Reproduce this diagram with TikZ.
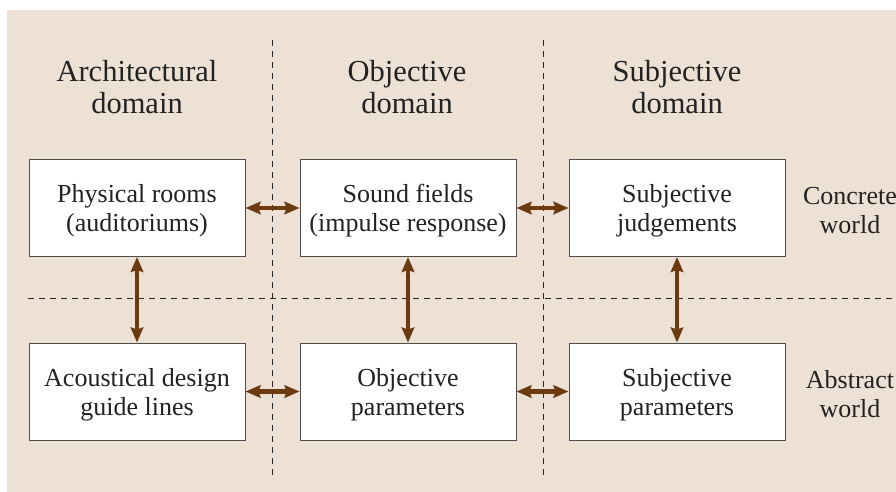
\documentclass[tikz,border=0pt]{standalone}
\usepackage{fontspec}
\setmainfont{Liberation Serif}
\usetikzlibrary{arrows.meta}
\definecolor{bgc}{HTML}{EDE1D6}
\definecolor{arrc}{HTML}{6B3A0E}
\definecolor{txt}{HTML}{222222}
\begin{document}
\begin{tikzpicture}[x=1pt,y=-1pt,
  box/.style={draw=black!70,line width=1pt,fill=white,minimum width=216pt,minimum height=97pt,inner sep=0pt},
  boxtext/.style={align=center,inner sep=0pt,text=txt,font=\fontsize{26}{29}\selectfont},
  head/.style={align=center,text=txt,font=\fontsize{30.5}{32.5}\selectfont},
  sep/.style={black!85,line width=0.9pt,dash pattern=on 6pt off 5pt},
  link/.style={arrc,line width=4.5pt,{Stealth[length=15pt,width=12.5pt,inset=2pt]}-{Stealth[length=15pt,width=12.5pt,inset=2pt]}}]
\useasboundingbox (0,0) rectangle (896,492);
\fill[bgc] (7,10) rectangle (896,492);
\clip (0,0) rectangle (896,492);
% separators
\coordinate (v1t) at (272.5,40); \coordinate (v1b) at (272.5,476);
\coordinate (v2t) at (543,40); \coordinate (v2b) at (543,476);
\coordinate (hl) at (28,298); \coordinate (hr) at (896,298);
\draw[sep] (v1t) -- (v1b);
\draw[sep] (v2t) -- (v2b);
\draw[sep] (hl) -- (hr);
% headers
\node[head] (h1) at (137,87) {Architectural\\domain};
\node[head] (h2) at (407,87) {Objective\\domain};
\node[head] (h3) at (677,87) {Subjective\\domain};
% boxes
\node[box] (a1) at (137,208) {};
\node[box] (b1) at (408,208) {};
\node[box] (c1) at (677,208) {};
\node[box] (a2) at (137,391.5) {};
\node[box] (b2) at (408,391.5) {};
\node[box] (c2) at (677,391.5) {};
\node[boxtext] (a1t) at ([yshift=-3pt]a1.center) {Physical rooms\\(auditoriums)};
\node[boxtext] (b1t) at ([yshift=-3pt]b1.center) {Sound fields\\(impulse response)};
\node[boxtext] (c1t) at ([yshift=-3pt]c1.center) {Subjective\\judgements};
\node[boxtext] (a2t) at ([yshift=-3pt]a2.center) {Acoustical design\\guide lines};
\node[boxtext] (b2t) at ([yshift=-3pt]b2.center) {Objective\\parameters};
\node[boxtext] (c2t) at ([yshift=-3pt]c2.center) {Subjective\\parameters};
% side labels
\node[boxtext] (s1) at (850,211) {Concrete\\world};
\node[boxtext] (s2) at (850,394.5) {Abstract\\world};
% links
\draw[link] (a1) -- (b1);
\draw[link] (b1) -- (c1);
\draw[link] (a2) -- (b2);
\draw[link] (b2) -- (c2);
\draw[link] (a1) -- (a2);
\draw[link] (b1) -- (b2);
\draw[link] (c1) -- (c2);
\end{tikzpicture}
\end{document}
